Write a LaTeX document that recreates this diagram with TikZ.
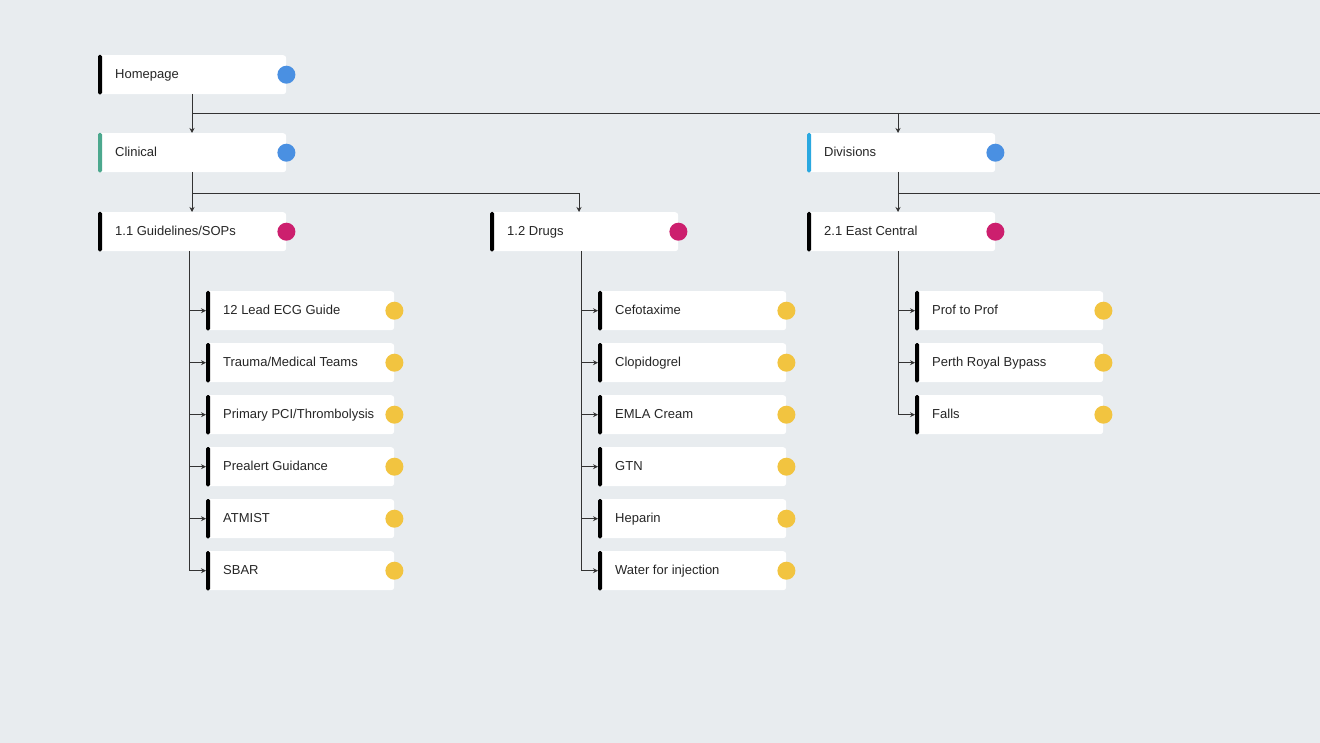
\documentclass[tikz,border=0pt]{standalone}
\usepackage{fontspec}
\setmainfont{Liberation Sans}
\usetikzlibrary{arrows.meta,calc}
\definecolor{bg}{HTML}{E8ECEF}
\definecolor{dblue}{HTML}{4A90E2}
\definecolor{dmag}{HTML}{CC1F6E}
\definecolor{dyel}{HTML}{F2C440}
\definecolor{bteal}{HTML}{4CA88E}
\definecolor{bsky}{HTML}{2AA8E0}
\definecolor{ln}{HTML}{333333}
\tikzset{
 card/.style={fill=white,rounded corners=3pt,minimum width=188pt,minimum height=39pt,anchor=north west,inner sep=0pt,draw=none},
 lbl/.style={anchor=west,font=\fontsize{13}{15}\selectfont,text=black!85,inner sep=0pt,text height=9.5pt,text depth=2.5pt},
 conn/.style={draw=ln,line width=0.8pt},
 arr/.style={conn,-{Stealth[length=5pt,width=5pt]}},
}
\newcommand\mycard[6]{%
 \node[card] (#1) at (#2,#3) {};
 \fill[#5,rounded corners=1.5pt] (#1.north west) rectangle ($(#1.south west)+(4pt,0)$);
 \node[lbl] (#1t) at ($(#1.west)+(17pt,0)$) {#4};
 \fill[#6] (#1.east) circle (9pt);
}
\begin{document}
\begin{tikzpicture}[x=1pt,y=-1pt]
\fill[bg] (0,0) rectangle (1320,743);
\useasboundingbox (0,0) rectangle (1320,743);
\mycard{home}{98}{55}{Homepage}{black}{dblue}
\mycard{clin}{98}{133}{Clinical}{bteal}{dblue}
\mycard{divs}{807}{133}{Divisions}{bsky}{dblue}
\mycard{guid}{98}{212}{1.1 Guidelines/SOPs}{black}{dmag}
\mycard{drug}{490}{212}{1.2 Drugs}{black}{dmag}
\mycard{east}{807}{212}{2.1 East Central}{black}{dmag}
\foreach \n/\t [count=\i from 0] in {g1/{12 Lead ECG Guide},g2/{Trauma/Medical Teams},g3/{Primary PCI/Thrombolysis},g4/{Prealert Guidance},g5/{ATMIST},g6/{SBAR}}{
 \mycard{\n}{206}{291+52*\i}{\t}{black}{dyel}}
\foreach \n/\t [count=\i from 0] in {d1/Cefotaxime,d2/Clopidogrel,d3/EMLA Cream,d4/GTN,d5/Heparin,d6/Water for injection}{
 \mycard{\n}{598}{291+52*\i}{\t}{black}{dyel}}
\foreach \n/\t [count=\i from 0] in {e1/Prof to Prof,e2/Perth Royal Bypass,e3/Falls}{
 \mycard{\n}{915}{291+52*\i}{\t}{black}{dyel}}
\coordinate (r1) at (1320,113);
\coordinate (r2) at (1320,193);
\draw[arr] (192,94) -- (clin.north -| 192,0);
\draw[conn] (192,113) -- (r1);
\draw[arr] (898,113) -- (divs.north -| 898,0);
\draw[arr] (192,172) -- (guid.north -| 192,0);
\draw[conn] (192,193) -| (579,200);
\draw[arr] (579,199) -- (drug.north -| 579,0);
\draw[arr] (898,172) -- (east.north -| 898,0);
\draw[conn] (898,193) -- (r2);
\draw[conn] (189,251) -- (g6.west -| 189,0);
\foreach \n in {g1,g2,g3,g4,g5,g6} \draw[arr] (\n.west -| 189,0) -- (\n.west);
\draw[conn] (581,251) -- (d6.west -| 581,0);
\foreach \n in {d1,d2,d3,d4,d5,d6} \draw[arr] (\n.west -| 581,0) -- (\n.west);
\draw[conn] (898,251) -- (e3.west -| 898,0);
\foreach \n in {e1,e2,e3} \draw[arr] (\n.west -| 898,0) -- (\n.west);
\end{tikzpicture}
\end{document}
